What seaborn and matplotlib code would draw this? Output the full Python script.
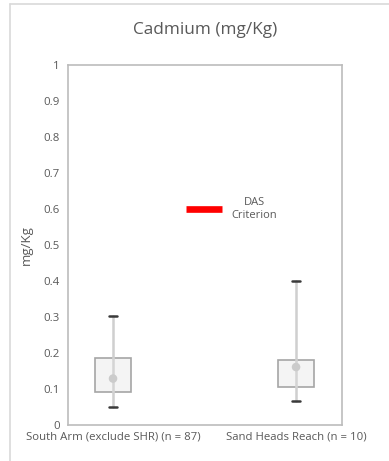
import matplotlib
matplotlib.use("Agg")
import matplotlib.pyplot as plt
from matplotlib.lines import Line2D
import seaborn as sns
import pandas as pd

# Summary statistics per reach (mg/Kg)
categories = ["South Arm (exclude SHR) (n = 87)", "Sand Heads Reach (n = 10)"]
minimum = [0.05, 0.067]
q1 = [0.091, 0.105]
mean = [0.129, 0.161]
q3 = [0.187, 0.181]
maximum = [0.304, 0.40]
das_criterion = 0.6

yticks = [0, 0.1, 0.2, 0.3, 0.4, 0.5, 0.6, 0.7, 0.8, 0.9, 1]
ytick_labels = ["0", "0.1", "0.2", "0.3", "0.4", "0.5", "0.6", "0.7", "0.8", "0.9", "1"]

sns.set_theme(style="white")
plt.rcParams["font.family"] = ["Open Sans", "DejaVu Sans"]

text_color = "#595959"

fig = plt.figure(figsize=(3.89, 4.61), dpi=100)
ax = fig.add_axes([68 / 389, 1 - 425 / 461, 274 / 389, 360 / 461])

positions = list(range(len(categories)))

# Box from Q1 to Q3 with whiskers to min / max
stats = []
for i in positions:
    stats.append(dict(med=mean[i], q1=q1[i], q3=q3[i],
                      whislo=minimum[i], whishi=maximum[i], fliers=[]))
ax.bxp(stats, positions=positions, widths=0.197, patch_artist=True,
       showfliers=False, capwidths=0.04,
       boxprops=dict(facecolor="#f4f4f4", edgecolor="#a5a5a5", linewidth=1.2, alpha=1.0),
       whiskerprops=dict(color="#cfcfcf", linewidth=1.8),
       capprops=dict(color="#3a3a3a", linewidth=1.8),
       medianprops=dict(linewidth=0))
# range line continuing through the box
ax.vlines(positions, q1, q3, color="#d4d4d4", linewidth=1.8, zorder=3)

# Mean markers
df = pd.DataFrame({"pos": positions, "mean": mean})
sns.scatterplot(data=df, x="pos", y="mean", ax=ax, s=38, color="#cbcbcb",
                edgecolor="none", zorder=4, legend=False)

# Criterion legend entry
handle = Line2D([], [], color="#ff0000", linewidth=4.8, solid_capstyle="butt")
leg = ax.legend([handle], ["DAS\nCriterion"], loc="center", frameon=False,
                bbox_to_anchor=(0.597, das_criterion), handlelength=3.25,
                handletextpad=0.9, fontsize=8, labelcolor=text_color)
for t in leg.get_texts():
    t.set_multialignment("center")

ax.set_xlim(-0.246, 1.251)
ax.set_ylim(0, 1)
ax.set_xticks(positions)
ax.set_xticklabels(categories, fontsize=8.2, color=text_color)
ax.set_yticks(yticks)
ax.set_yticklabels(ytick_labels, fontsize=8.2, color=text_color)
ax.tick_params(axis="both", length=0, pad=6)
ax.tick_params(axis="x", pad=5)
ax.set_xlabel("")
ax.set_ylabel("mg/Kg", fontsize=9.5, color=text_color)
ax.yaxis.set_label_coords(-0.13, 0.5)

for s in ax.spines.values():
    s.set_visible(True)
    s.set_color("#bcbcbc")
    s.set_linewidth(1.2)

fig.text(205 / 389, 1 - 30 / 461, "Cadmium (mg/Kg)", ha="center", va="center",
         fontsize=12.4, color=text_color)

# Chart area border (left and top)
border = "#d9d9d9"
fig.add_artist(Line2D([10 / 389, 10 / 389], [0, 1 - 4 / 461], color=border, linewidth=1.2,
                      transform=fig.transFigure))
fig.add_artist(Line2D([10 / 389, 1], [1 - 4 / 461, 1 - 4 / 461], color=border, linewidth=1.2,
                      transform=fig.transFigure))

fig.savefig("out.png", dpi=100)
